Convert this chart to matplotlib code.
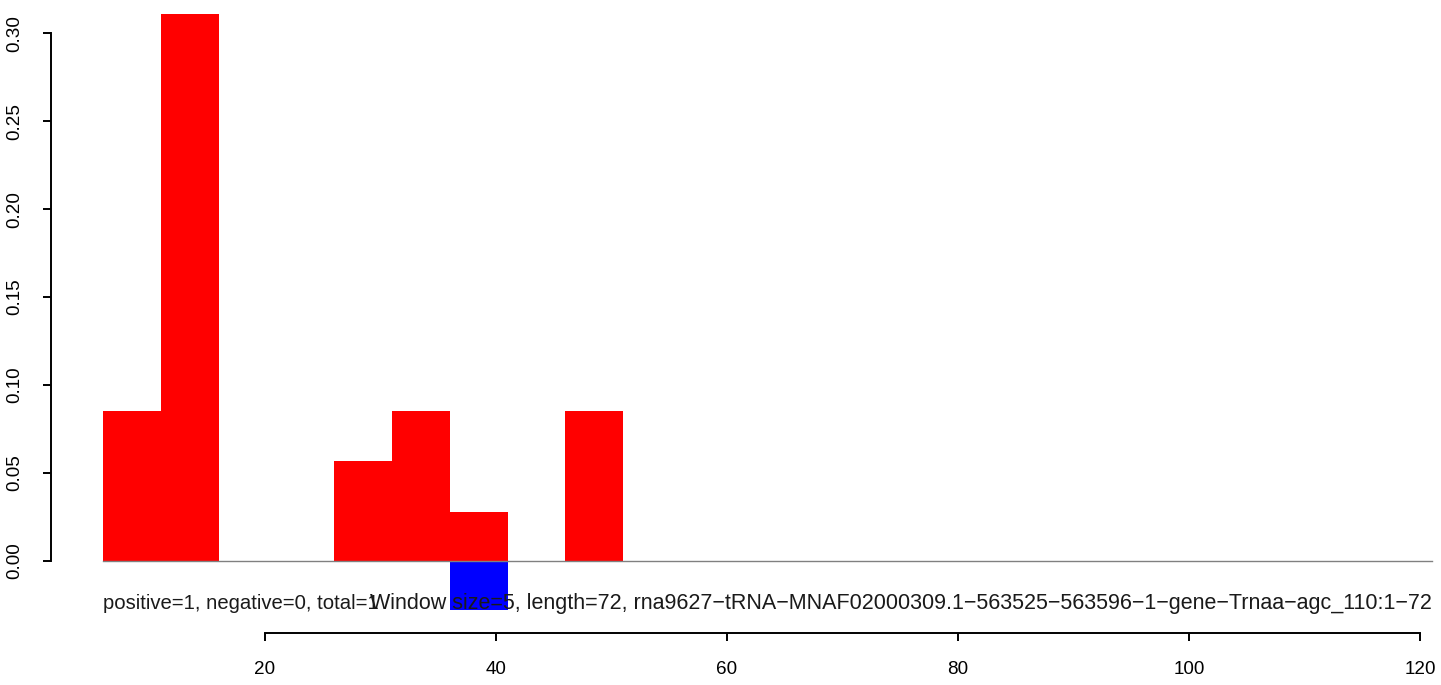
import numpy as np
import matplotlib.pyplot as plt

plt.rcParams['font.family'] = ['Liberation Sans', 'DejaVu Sans']

# window starts (size 5) and scores
starts = list(range(6, 121, 5))
pos_vals = [0.085, 0.311, 0.0, 0.0, 0.057, 0.085, 0.028, 0.0, 0.085] + [0.0] * 14
neg_vals = [0.0] * 6 + [-0.028] + [0.0] * 16
window = 5
left_label = "positive=1, negative=0, total=1"
right_label = ("Window size=5, length=72, "
               "rna9627\u2212tRNA\u2212MNAF02000309.1\u2212563525\u2212563596\u22121\u2212gene\u2212Trnaa\u2212agc_110:1\u221272")
yticks = [0.00, 0.05, 0.10, 0.15, 0.20, 0.25, 0.30]
xticks = [20, 40, 60, 80, 100, 120]

FS = 13.6
W, H = 1441, 685
fig = plt.figure(figsize=(W / 100, H / 100), dpi=100)
ax = fig.add_axes([51 / W, (H - 633) / H, (W - 51) / W, 633 / H])
ax.set_xlim(1.47, 121.82)
ax.set_ylim(-0.0409, 0.3188)

ax.bar(starts, pos_vals, width=window, align='edge', color='#ff0000', linewidth=0)
ax.bar(starts, neg_vals, width=window, align='edge', color='#0000ff', linewidth=0)
ax.plot([starts[0], starts[-1] + window], [0, 0], color='#808080', lw=1.0)

# two labels drawn on the same line, they overlap like in the original
ax.text(starts[0], -0.0239, left_label, ha='left', va='center', fontsize=14.6, color='#1a1a1a')
ax.text(starts[-1] + window, -0.0239, right_label, ha='right', va='center', fontsize=15.5, color='#1a1a1a')

for s in ['top', 'right']:
    ax.spines[s].set_visible(False)
ax.spines['left'].set_bounds(0, 0.30)
ax.spines['bottom'].set_bounds(20, 120)
for s in ['left', 'bottom']:
    ax.spines[s].set_linewidth(1.4)

ax.set_yticks(yticks)
ax.set_yticklabels([f"{v:.2f}" for v in yticks], rotation=90, va='center')
ax.set_xticks(xticks)
ax.tick_params(axis='both', length=5.8, width=1.4, labelsize=FS)
ax.tick_params(axis='y', pad=14)
ax.tick_params(axis='x', pad=14.5)

fig.savefig("out.png", dpi=100)
